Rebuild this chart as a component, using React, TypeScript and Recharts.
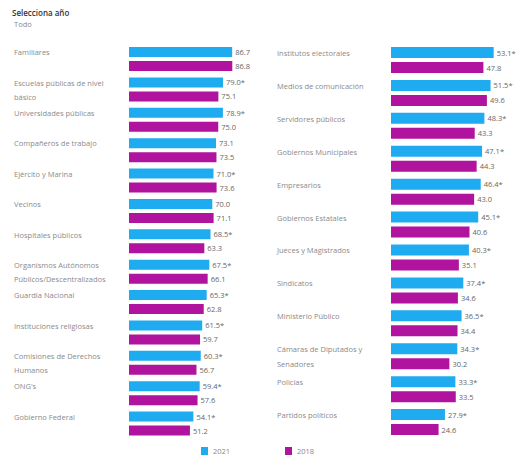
import React from "react";
import { Bar, BarChart, XAxis, YAxis, LabelList } from "recharts";

// Confianza en instituciones, 2021 vs 2018 (%), "*" = cambio significativo
const leftCategories = [
  "Familiares",
  "Escuelas públicas de nivel\nbásico",
  "Universidades públicas",
  "Compañeros de trabajo",
  "Ejército y Marina",
  "Vecinos",
  "Hospitales públicos",
  "Organismos Autónomos\nPúblicos/Descentralizados",
  "Guardia Nacional",
  "Instituciones religiosas",
  "Comisiones de Derechos\nHumanos",
  "ONG's",
  "Gobierno Federal",
];
const left2021 = [86.7, 79.0, 78.9, 73.1, 71.0, 70.0, 68.5, 67.5, 65.3, 61.5, 60.3, 59.4, 54.1];
const left2021Sig = [false, true, true, false, true, false, true, true, true, true, true, true, true];
const left2018 = [86.8, 75.1, 75.0, 73.5, 73.6, 71.1, 63.3, 66.1, 62.8, 59.7, 56.7, 57.6, 51.2];

const rightCategories = [
  "Institutos electorales",
  "Medios de comunicación",
  "Servidores públicos",
  "Gobiernos Municipales",
  "Empresarios",
  "Gobiernos Estatales",
  "Jueces y Magistrados",
  "Sindicatos",
  "Ministerio Público",
  "Cámaras de Diputados y\nSenadores",
  "Policías",
  "Partidos políticos",
];
const right2021 = [53.1, 51.5, 48.3, 47.1, 46.4, 45.1, 40.3, 37.4, 36.5, 34.3, 33.3, 27.9];
const right2021Sig = [true, true, true, true, true, true, true, true, true, true, true, true];
const right2018 = [47.8, 49.6, 43.3, 44.3, 43.0, 40.6, 35.1, 34.6, 34.4, 30.2, 33.5, 24.6];

const seriesNames = ["2021", "2018"];

const BLUE = "#1eabf0";
const MAGENTA = "#b0139e";
const FONT = "'Open Sans', sans-serif";

const makeRows = (cats: string[], a: number[], b: number[]) =>
  cats.map((name, i) => ({ name, y2021: a[i], y2018: b[i] }));

function CatTick(props: any) {
  const { y, payload, textX, lineGap } = props;
  const lines = String(payload.value).split("\n");
  return (
    <g>
      {lines.map((line: string, i: number) => (
        <text
          key={i}
          x={textX}
          y={y - lineGap + i * lineGap * 2}
          textAnchor="start"
          dominantBaseline="central"
          fontSize={7.5}
          fill="#8a8a8a"
          fontFamily={FONT}
        >
          {line}
        </text>
      ))}
    </g>
  );
}

function valueLabel(sig: boolean[] | null) {
  return (props: any) => {
    const { x, y, width, height, value, index } = props;
    const star = sig && sig[index] ? "*" : "";
    return (
      <text
        x={x + width + 3}
        y={y + height / 2}
        dominantBaseline="central"
        fontSize={7.5}
        fill="#666"
        fontFamily={FONT}
      >
        {value.toFixed(1) + star}
      </text>
    );
  };
}

function Panel({
  cats, a, b, sig, width, axisWidth, max, barSize, lineGap, textX,
}: any) {
  return (
    <BarChart
      width={width}
      height={458}
      layout="vertical"
      data={makeRows(cats, a, b)}
      margin={{ top: 44, right: width - axisWidth - (max === 100 ? 119 : 116), bottom: 19, left: 0 }}
      barSize={barSize}
      barGap={4}
    >
      <XAxis type="number" domain={[0, max]} hide />
      <YAxis
        type="category"
        dataKey="name"
        width={axisWidth}
        axisLine={false}
        tickLine={false}
        interval={0}
        tick={(p: any) => <CatTick {...p} textX={textX} lineGap={lineGap} />}
      />
      <Bar dataKey="y2021" name={seriesNames[0]} fill={BLUE} isAnimationActive={false}>
        <LabelList dataKey="y2021" content={valueLabel(sig)} />
      </Bar>
      <Bar dataKey="y2018" name={seriesNames[1]} fill={MAGENTA} isAnimationActive={false}>
        <LabelList dataKey="y2018" content={valueLabel(null)} />
      </Bar>
    </BarChart>
  );
}

export default function App() {
  return (
    <div
      style={{
        position: "absolute",
        left: 0,
        top: 0,
        width: 518,
        height: 458,
        background: "#fff",
        fontFamily: FONT,
        overflow: "hidden",
      }}
    >
      <div style={{ position: "absolute", left: 12, top: 7, fontSize: 8, fontWeight: 600, color: "#333" }}>
        Selecciona año
      </div>
      <div style={{ position: "absolute", left: 14, top: 19, fontSize: 7.5, color: "#888" }}>Todo</div>

      <div style={{ position: "absolute", left: 0, top: 0 }}>
        <Panel
          cats={leftCategories}
          a={left2021}
          b={left2018}
          sig={left2021Sig}
          width={262}
          axisWidth={129}
          max={100}
          barSize={10}
          lineGap={7}
          textX={14}
        />
      </div>
      <div style={{ position: "absolute", left: 259, top: 0 }}>
        <Panel
          cats={rightCategories}
          a={right2021}
          b={right2018}
          sig={right2021Sig}
          width={259}
          axisWidth={132}
          max={60}
          barSize={11}
          lineGap={7.5}
          textX={18}
        />
      </div>

      {[BLUE, MAGENTA].map((c, i) => (
        <div
          key={i}
          style={{
            position: "absolute",
            left: i === 0 ? 201 : 285,
            top: 446,
            display: "flex",
            alignItems: "center",
            fontSize: 7.5,
            color: "#888",
          }}
        >
          <span style={{ display: "inline-block", width: 7, height: 8, background: c, marginRight: 5 }} />
          {seriesNames[i]}
        </div>
      ))}
    </div>
  );
}
